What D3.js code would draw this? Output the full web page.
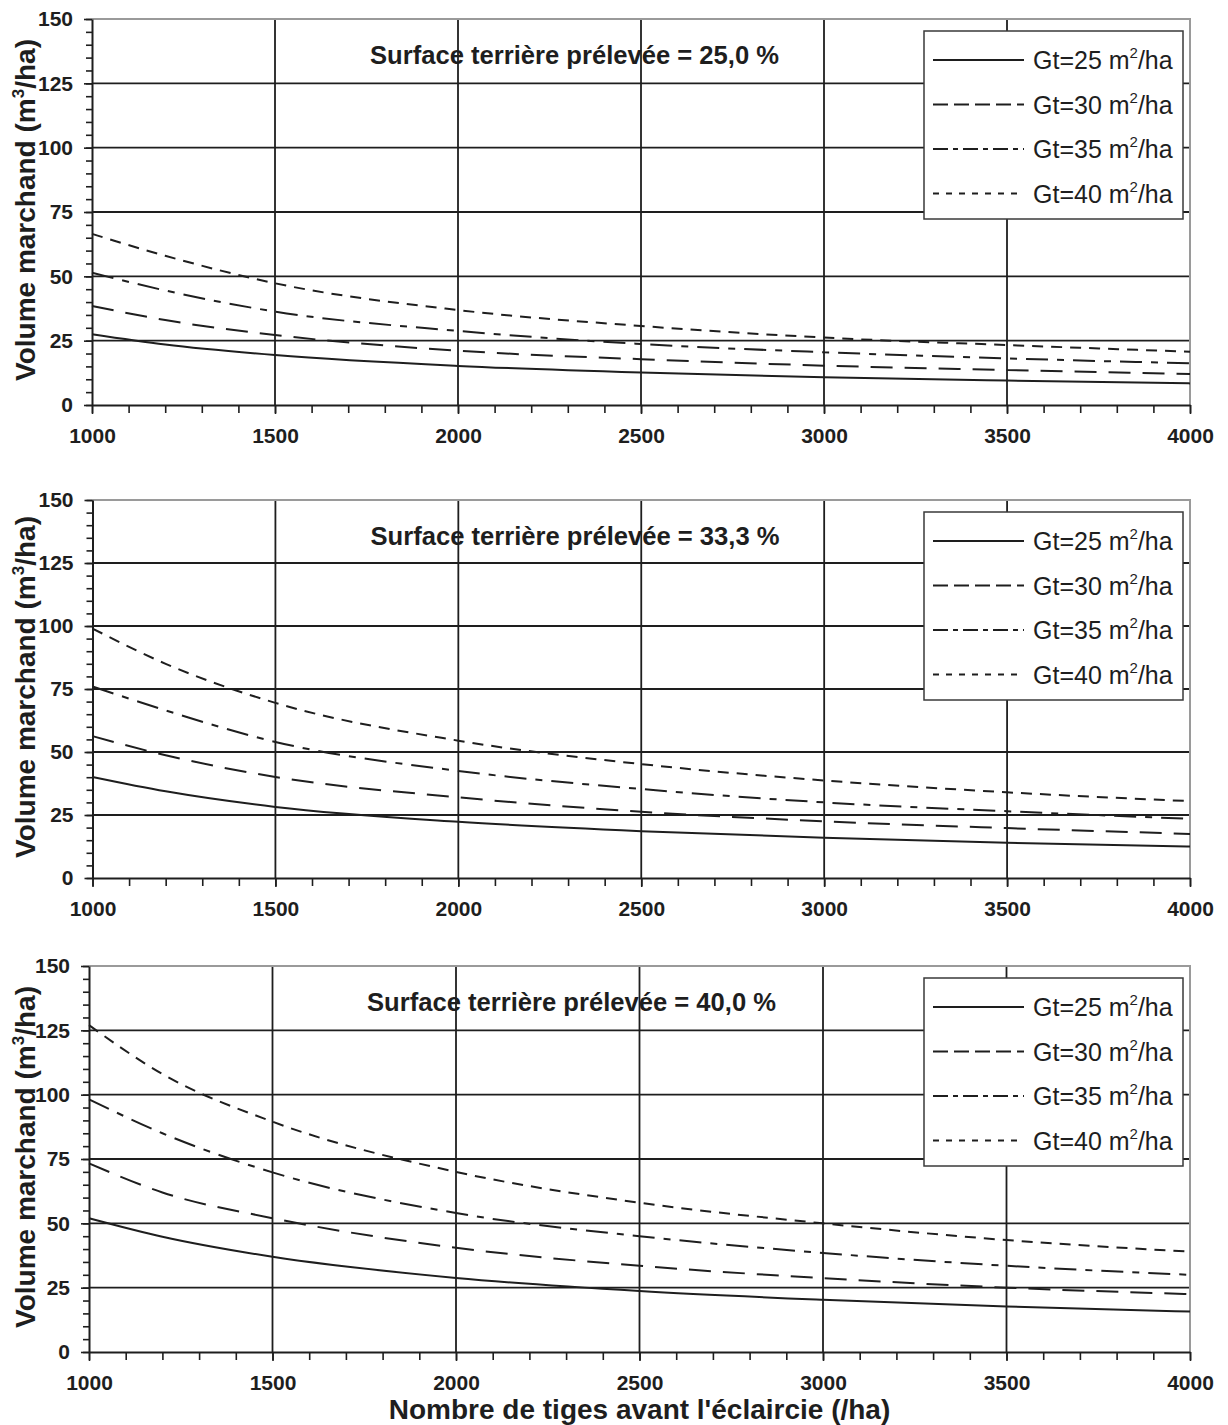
<!DOCTYPE html>
<html>
  <head>
    <meta charset="utf-8">
    <title>Volume marchand</title>
    <script src="https://d3js.org/d3.v7.min.js"></script>
    <style>
      body { margin: 0; background: #fff; }
      svg { display: block; font-family: "Liberation Sans", Arial, sans-serif; }
      .axis path { stroke: #1e1e1e; stroke-width: 2px; }
      .axis line { stroke: #1e1e1e; stroke-width: 1.6px; }
      .grid { stroke: #1e1e1e; stroke-width: 1.8px; }
      .curve { fill: none; stroke: #1e1e1e; stroke-width: 2px; }
    </style>
  </head>
  <body>
    <svg id="chart" width="1228" height="1425"></svg>
    <script>
      // x values (stems per ha before thinning)
      var nombreTiges = [1000, 1200, 1500, 2000, 2500, 3000, 3500, 4000];
      var classesGt = ["25", "30", "35", "40"];
      var pourcentPreleve = ["25,0", "33,3", "40,0"];
      var xTicks = [1000, 1500, 2000, 2500, 3000, 3500, 4000];
      var yTicks = [0, 25, 50, 75, 100, 125, 150];

      // volume marchand (m3/ha), one row per Gt class
      var volume25 = [
        [27.5, 23.5, 19.4, 15.2, 12.6, 10.8, 9.5, 8.4],
        [38.5, 33.0, 27.2, 21.1, 17.8, 15.3, 13.6, 12.0],
        [51.4, 44.5, 36.3, 28.8, 23.7, 20.5, 18.1, 16.2],
        [66.5, 58.0, 47.3, 36.9, 30.7, 26.2, 23.3, 20.7]
      ];
      var volume33 = [
        [40.1, 34.4, 28.2, 22.3, 18.6, 16.0, 14.0, 12.5],
        [56.3, 48.7, 40.1, 32.0, 26.3, 22.5, 19.8, 17.5],
        [76.0, 66.5, 54.0, 42.5, 35.3, 30.0, 26.5, 23.5],
        [99.0, 85.0, 69.5, 54.5, 45.2, 38.7, 34.0, 30.5]
      ];
      var volume40 = [
        [52.0, 44.8, 37.0, 28.8, 23.7, 20.3, 17.7, 15.7],
        [73.3, 62.0, 52.0, 40.5, 33.5, 28.7, 25.0, 22.5],
        [98.2, 85.0, 69.8, 54.0, 45.0, 38.5, 33.5, 30.0],
        [127.0, 108.0, 89.5, 70.0, 58.0, 50.0, 43.5, 39.0]
      ];
      var volumes = [volume25, volume33, volume40];

      // dash styles: plot, legend
      var dashPlot = [null, "22,12", "22,9,7,9", "11,8"];
      var dashLegend = [null, "15,6", "15,5,5,5", "6,7"];

      var panels = [
        { top: 19, bottom: 405, left: 92, right: 1190 },
        { top: 500, bottom: 878, left: 92.5, right: 1190 },
        { top: 966, bottom: 1352, left: 89, right: 1190 }
      ];

      var svg = d3.select("#chart");

      function styleLabels(sel) {
        sel.selectAll("text")
          .attr("font-size", 21)
          .attr("font-weight", "bold")
          .attr("font-family", "'Liberation Sans', Arial, sans-serif")
          .attr("fill", "#1e1e1e");
      }

      panels.forEach(function(p, k) {
        var x = d3.scaleLinear().domain([1000, 4000]).range([p.left, p.right]);
        var y = d3.scaleLinear().domain([0, 150]).range([p.bottom, p.top]);
        var g = svg.append("g");

        // gridlines
        g.selectAll(".hgrid")
          .data(yTicks.filter(function(d) { return d > 0 && d < 150; }))
          .enter().append("line")
            .attr("class", "grid")
            .attr("x1", p.left).attr("x2", p.right)
            .attr("y1", function(d) { return y(d); })
            .attr("y2", function(d) { return y(d); });
        g.selectAll(".vgrid")
          .data(xTicks.filter(function(d) { return d > 1000 && d < 4000; }))
          .enter().append("line")
            .attr("class", "grid")
            .attr("y1", p.top).attr("y2", p.bottom)
            .attr("x1", function(d) { return x(d); })
            .attr("x2", function(d) { return x(d); });

        // gray frame top and right
        g.append("path")
          .attr("d", "M" + p.left + "," + p.top + "H" + p.right + "V" + p.bottom)
          .attr("fill", "none")
          .attr("stroke", "#9a9a9a")
          .attr("stroke-width", 2);

        // minor ticks
        g.append("g")
          .attr("class", "axis")
          .attr("transform", "translate(" + p.left + ",0)")
          .call(d3.axisLeft(y).tickValues(d3.range(0, 151, 5)).tickSize(6).tickFormat(""))
          .select(".domain").remove();
        g.append("g")
          .attr("class", "axis")
          .attr("transform", "translate(0," + p.bottom + ")")
          .call(d3.axisBottom(x).tickValues(d3.range(1000, 4001, 100)).tickSize(8).tickFormat(""))
          .select(".domain").remove();

        // major axes
        g.append("g")
          .attr("class", "axis")
          .attr("transform", "translate(" + p.left + ",0)")
          .call(d3.axisLeft(y).tickValues(yTicks).tickSize(8).tickSizeOuter(0).tickPadding(11).tickFormat(d3.format("d")))
          .call(styleLabels);
        g.append("g")
          .attr("class", "axis")
          .attr("transform", "translate(0," + p.bottom + ")")
          .call(d3.axisBottom(x).tickValues(xTicks).tickSize(9).tickSizeOuter(0).tickPadding(14).tickFormat(d3.format("d")))
          .call(styleLabels);

        // curves
        var line = d3.line()
          .x(function(d, i) { return x(nombreTiges[i]); })
          .y(function(d) { return y(d); })
          .curve(d3.curveMonotoneX);
        volumes[k].forEach(function(serie, s) {
          g.append("path")
            .attr("class", "curve")
            .attr("d", line(serie))
            .attr("stroke-dasharray", dashPlot[s]);
        });

        // panel title
        g.append("text")
          .attr("x", p.left + 278)
          .attr("y", p.top + 45)
          .attr("font-size", 25.6)
          .attr("font-weight", "bold")
          .attr("fill", "#1e1e1e")
          .text("Surface terrière prélevée = " + pourcentPreleve[k] + " %");

        // y title
        var yt = g.append("text")
          .attr("transform", "translate(35," + ((p.top + p.bottom) / 2 - 2) + ") rotate(-90)")
          .attr("text-anchor", "middle")
          .attr("font-size", 28)
          .attr("font-weight", "bold")
          .attr("fill", "#1e1e1e");
        yt.append("tspan").text("Volume marchand (m");
        yt.append("tspan").attr("font-size", 17).attr("dy", -11).text("3");
        yt.append("tspan").attr("dy", 11).text("/ha)");

        // legend
        var lx = 924, ly = p.top + 12, lw = 259, lh = 188;
        var leg = g.append("g");
        leg.append("rect")
          .attr("x", lx).attr("y", ly).attr("width", lw).attr("height", lh)
          .attr("fill", "#fff")
          .attr("stroke", "#3a3a3a")
          .attr("stroke-width", 1.5);
        classesGt.forEach(function(c, s) {
          var ry = ly + 29 + s * 44.5;
          leg.append("line")
            .attr("x1", lx + 9).attr("x2", lx + 100)
            .attr("y1", ry).attr("y2", ry)
            .attr("stroke", "#1e1e1e")
            .attr("stroke-width", 1.8)
            .attr("stroke-dasharray", dashLegend[s]);
          var t = leg.append("text")
            .attr("x", lx + 109)
            .attr("y", ry + 9)
            .attr("font-size", 25)
            .attr("fill", "#1e1e1e");
          t.append("tspan").text("Gt=" + c + " m");
          t.append("tspan").attr("font-size", 15).attr("dy", -11).text("2");
          t.append("tspan").attr("dy", 11).text("/ha");
        });
      });

      // x title under last panel
      svg.append("text")
        .attr("x", (panels[2].left + panels[2].right) / 2)
        .attr("y", 1419)
        .attr("text-anchor", "middle")
        .attr("font-size", 28)
        .attr("font-weight", "bold")
        .attr("fill", "#1e1e1e")
        .text("Nombre de tiges avant l'éclaircie (/ha)");
    </script>
  </body>
</html>
